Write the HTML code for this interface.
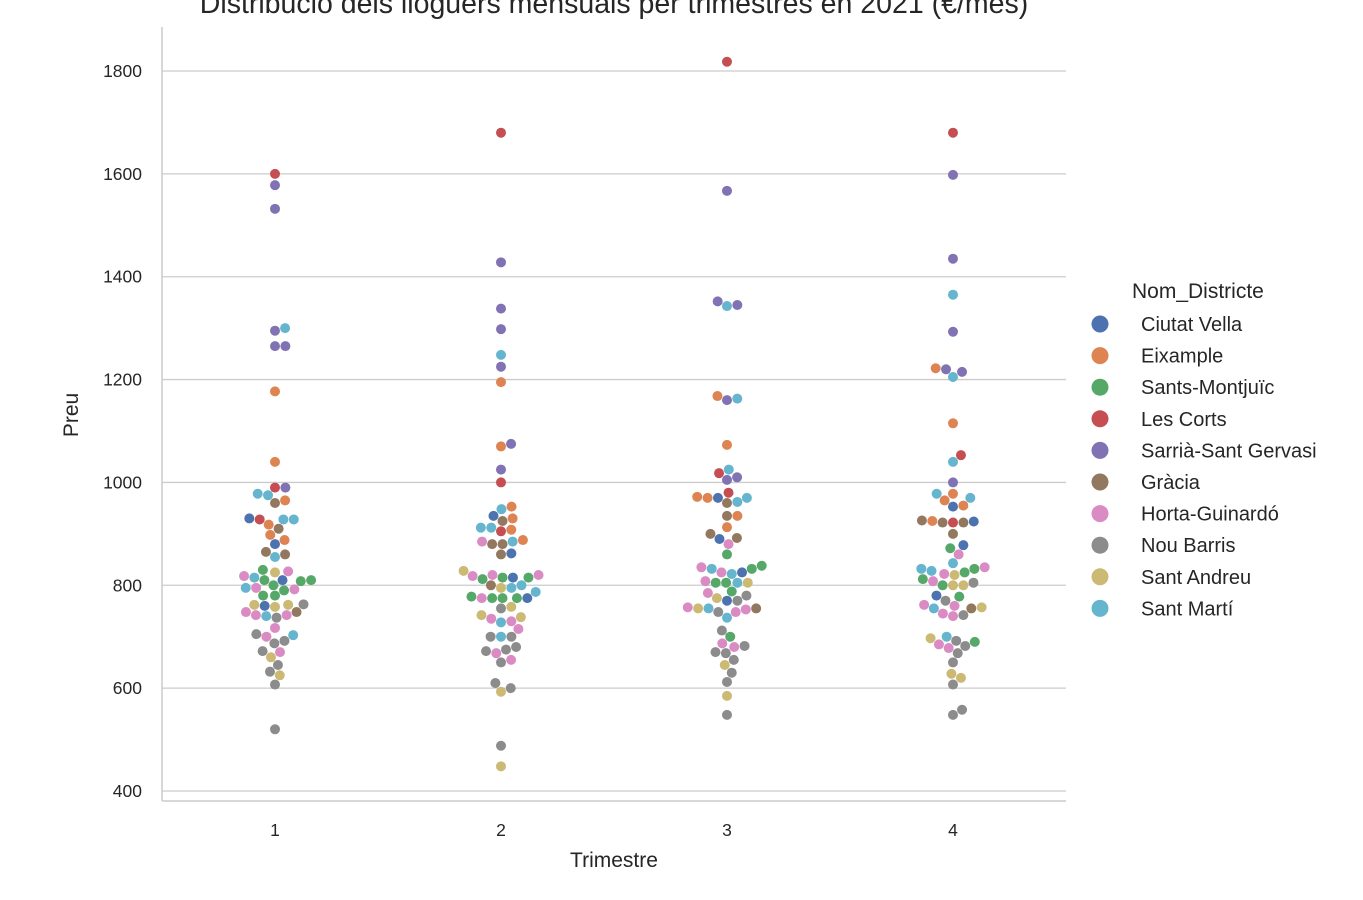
<!DOCTYPE html>
<html><head><meta charset="utf-8"><style>
html,body{margin:0;padding:0;background:#fff;}
svg{display:block;font-family:"Liberation Sans","DejaVu Sans",sans-serif;}
</style></head><body>
<svg id="chart" width="1363" height="900">
<text x="614" y="13" text-anchor="middle" font-size="28.5" fill="#262626">Distribució dels lloguers mensuals per trimestres en 2021 (€/mes)</text>
<g id="grid"></g>
<g id="marks"></g>
<line x1="162" y1="27" x2="162" y2="801" stroke="#cccccc" stroke-width="1.5"/>
<line x1="162" y1="801" x2="1066" y2="801" stroke="#cccccc" stroke-width="1.5"/>
<text x="614" y="867" text-anchor="middle" font-size="21" fill="#262626">Trimestre</text>
<text transform="translate(78,415) rotate(-90)" text-anchor="middle" font-size="21" fill="#262626">Preu</text>
<g id="legend">
<text x="1132" y="298" font-size="21" fill="#262626">Nom_Districte</text>
</g>
</svg>
<script>
const districts=["Ciutat Vella","Eixample","Sants-Montjuïc","Les Corts","Sarrià-Sant Gervasi","Gràcia","Horta-Guinardó","Nou Barris","Sant Andreu","Sant Martí"];
const colors=["#4c72b0","#dd8452","#55a868","#c44e52","#8172b3","#937860","#da8bc3","#8c8c8c","#ccb974","#64b5cd"];
const quarters=["1","2","3","4"];
const yTicks=[400,600,800,1000,1200,1400,1600,1800];
const q1Values=[1600,1578,1532,1300,1295,1265,1265,1177,1040,990,990,978,975,965,960,930,928,928,928,918,910,898,888,880,865,860,855,830,825,827,818,815,810,810,808,810,800,795,795,792,790,780,780,762,762,758,760,763,748,748,742,742,740,737,717,705,700,703,692,687,672,670,660,645,632,625,607,520];
const q1Districts=[3,4,4,9,4,4,4,1,1,3,4,9,9,1,5,0,9,3,9,1,5,1,1,0,5,5,9,2,8,6,6,9,0,2,2,2,2,6,9,6,2,2,2,8,8,8,0,7,5,6,6,6,9,7,6,7,6,9,7,7,7,6,8,7,7,8,7,7];
const q2Values=[1680,1428,1338,1298,1248,1225,1195,1075,1070,1025,1000,953,948,935,930,925,912,912,908,905,888,885,885,880,880,862,860,828,820,820,818,815,815,812,815,800,795,800,795,787,775,775,775,778,775,775,758,755,742,738,735,728,730,715,700,700,700,680,675,672,668,655,650,610,600,593,488,448];
const q2Districts=[3,4,4,4,9,4,1,4,1,4,3,1,9,0,1,5,9,9,1,3,1,9,6,5,5,0,5,8,6,6,6,2,0,2,2,5,8,9,9,9,2,2,2,2,6,0,8,7,8,8,6,9,6,6,9,7,7,7,7,7,6,6,7,7,7,8,7,8];
const q3Values=[1818,1567,1352,1345,1343,1168,1163,1160,1073,1025,1018,1010,1005,980,972,970,970,970,962,960,935,935,913,900,892,890,880,860,838,835,832,832,825,825,822,808,805,805,805,805,788,785,780,775,770,770,757,755,753,755,755,748,748,737,712,700,687,682,680,670,668,655,645,630,612,585,548];
const q3Districts=[3,4,4,4,9,1,9,4,1,9,3,4,4,3,1,0,1,9,9,5,5,1,1,5,5,0,6,2,2,6,9,2,6,0,9,6,2,9,2,8,2,6,7,8,0,7,6,9,6,8,5,6,7,9,7,2,6,7,6,7,7,7,8,7,7,8,7];
const q4Values=[1680,1598,1435,1365,1293,1222,1220,1215,1205,1115,1053,1040,1000,978,978,970,965,955,953,926,924,922,922,922,925,900,878,872,860,843,835,832,832,828,825,822,820,812,808,800,800,800,805,780,778,770,762,760,757,755,755,745,742,740,700,697,692,690,685,682,678,668,650,628,620,607,558,548];
const q4Districts=[3,4,4,9,4,1,4,4,9,1,3,9,4,1,9,9,1,1,0,5,0,3,5,5,1,5,0,2,6,9,6,2,9,9,2,6,8,2,6,8,8,2,7,0,2,7,6,6,8,5,9,6,7,6,9,8,7,2,6,7,6,7,7,8,8,7,7,7];
const seriesValues=[q1Values,q2Values,q3Values,q4Values];
const seriesDistricts=[q1Districts,q2Districts,q3Districts,q4Districts];

const NS="http://www.w3.org/2000/svg";
const plotTop=27,plotBottom=801,plotLeft=162,plotRight=1066;
function yScale(v){return 791-(v-400)*(720/1400);}
function xScale(i){return plotLeft+(plotRight-plotLeft)*(i+0.5)/quarters.length;}
const grid=document.getElementById('grid');
yTicks.forEach(t=>{
  const y=yScale(t);
  const l=document.createElementNS(NS,'line');
  l.setAttribute('x1',plotLeft);l.setAttribute('x2',plotRight);
  l.setAttribute('y1',y);l.setAttribute('y2',y);
  l.setAttribute('stroke','#cccccc');l.setAttribute('stroke-width','1.3');
  
  
  grid.appendChild(l);
  const tx=document.createElementNS(NS,'text');
  tx.setAttribute('x',142);tx.setAttribute('y',y+6);
  tx.setAttribute('text-anchor','end');tx.setAttribute('font-size','17.5');tx.setAttribute('fill','#262626');
  tx.textContent=t;
  
  
  grid.appendChild(tx);
});
quarters.forEach((q,i)=>{
  const tx=document.createElementNS(NS,'text');
  tx.setAttribute('x',xScale(i));tx.setAttribute('y',836);
  tx.setAttribute('text-anchor','middle');tx.setAttribute('font-size','17.5');tx.setAttribute('fill','#262626');
  tx.textContent=q;
  
  
  grid.appendChild(tx);
});
const marks=document.getElementById('marks');
const R=5,D=10.4;
seriesValues.forEach((vals,qi)=>{
  const cx=xScale(qi);
  const idx=vals.map((v,i)=>i).sort((a,b)=>vals[a]-vals[b]);
  const placed=[];
  idx.forEach(i=>{
    const y=yScale(vals[i]);
    const near=placed.filter(p=>Math.abs(p.y-y)<D);
    let cands=[0];
    near.forEach(p=>{const dx=Math.sqrt(D*D-(p.y-y)**2);cands.push(p.x+dx,p.x-dx);});
    cands.sort((a,b)=>Math.abs(a)-Math.abs(b));
    let x=0;
    for(const c of cands){
      if(near.every(p=>(p.x-c)**2+(p.y-y)**2>=D*D-0.01)){x=c;break;}
    }
    placed.push({x,y});
    const c=document.createElementNS(NS,'circle');
    c.setAttribute('cx',cx+x);c.setAttribute('cy',y);c.setAttribute('r',R);
    c.setAttribute('fill',colors[seriesDistricts[qi][i]]);
    
    
    marks.appendChild(c);
  });
});
const legend=document.getElementById('legend');
districts.forEach((d,i)=>{
  const y=324+31.6*i;
  const c=document.createElementNS(NS,'circle');
  c.setAttribute('cx',1100);c.setAttribute('cy',y);c.setAttribute('r',8.5);c.setAttribute('fill',colors[i]);
  
  
  legend.appendChild(c);
  const t=document.createElementNS(NS,'text');
  t.setAttribute('x',1141);t.setAttribute('y',y+7);t.setAttribute('font-size','20');t.setAttribute('fill','#262626');
  t.textContent=d;
  
  
  legend.appendChild(t);
});
</script>
</body></html>
